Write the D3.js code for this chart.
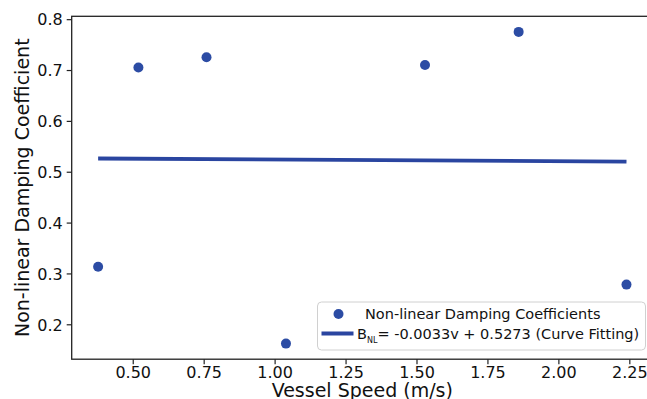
<!DOCTYPE html>
<html>
<head>
<meta charset="utf-8">
<script src="https://cdn.jsdelivr.net/npm/d3@7"></script>
<style>
  body { margin: 0; background: #fff; }
  svg { display: block; font-family: "DejaVu Sans", sans-serif; }
</style>
</head>
<body>
<script>
// vessel speed (m/s) and measured non-linear damping coefficient
var speeds = [0.378, 0.52, 0.76, 1.04, 1.53, 1.86, 2.24];
var coefs  = [0.313, 0.705, 0.725, 0.162, 0.71, 0.775, 0.278];

// fitted line B_NL = slope*v + intercept
var fitSlope = -0.0033;
var fitIntercept = 0.5273;

var xTicks = [0.50, 0.75, 1.00, 1.25, 1.50, 1.75, 2.00, 2.25];
var yTicks = [0.2, 0.3, 0.4, 0.5, 0.6, 0.7, 0.8];

var w = 647, h = 399;
var dotColor = "#2c4ca4";
var lineColor = "#2a45a0";

var svg = d3.select("body").append("svg")
    .attr("width", w)
    .attr("height", h);

// axis limits with a 5% margin around the data, like matplotlib
var xr = d3.extent(speeds), yr = d3.extent(coefs);
var xpad = (xr[1] - xr[0]) * 0.05, ypad = (yr[1] - yr[0]) * 0.05;

var x = d3.scaleLinear()
    .domain([xr[0] - xpad, xr[1] + xpad])
    .range([71.7, 652.9]);
var y = d3.scaleLinear()
    .domain([yr[0] - ypad, yr[1] + ypad])
    .range([359.2, 16.3]);

var x0 = x.range()[0], x1 = x.range()[1];
var y0 = y.range()[0], y1 = y.range()[1];

// axes
var xAxis = svg.append("g")
    .attr("transform", "translate(0," + y0 + ")")
    .call(d3.axisBottom(x).tickValues(xTicks).tickFormat(d3.format(".2f")).tickSizeOuter(0).tickSize(5).tickPadding(2));
var yAxis = svg.append("g")
    .attr("transform", "translate(" + x0 + ",0)")
    .call(d3.axisLeft(y).tickValues(yTicks).tickFormat(d3.format(".1f")).tickSizeOuter(0).tickSize(5).tickPadding(4));

[xAxis, yAxis].forEach(function(g) {
    g.select(".domain").remove();
    g.selectAll("line").attr("stroke", "#222").attr("stroke-width", 1.2);
    g.selectAll("text")
        .attr("fill", "#111")
        .style("font-size", "16px")
        .style("font-family", "DejaVu Sans, sans-serif");
});
yAxis.selectAll("text").attr("dy", "0.36em");
xAxis.selectAll("text").attr("dy", "0.71em");

// spines (box)
svg.append("rect")
    .attr("x", x0).attr("y", y1)
    .attr("width", x1 - x0).attr("height", y0 - y1)
    .attr("fill", "none")
    .attr("stroke", "#222")
    .attr("stroke-width", 1.3);

// fitted line
var fitX = d3.extent(speeds);
var line = d3.line()
    .x(function(d) { return x(d); })
    .y(function(d) { return y(fitSlope * d + fitIntercept); });

svg.append("path")
    .datum(fitX)
    .attr("d", line)
    .attr("fill", "none")
    .attr("stroke", lineColor)
    .attr("stroke-width", 3.8);

// points
svg.selectAll("circle.pt")
    .data(speeds)
    .enter()
    .append("circle")
    .attr("class", "pt")
    .attr("cx", function(d) { return x(d); })
    .attr("cy", function(d, i) { return y(coefs[i]); })
    .attr("r", 5)
    .attr("fill", dotColor);

// axis titles
svg.append("text")
    .attr("x", (x0 + x1) / 2)
    .attr("y", 397)
    .attr("text-anchor", "middle")
    .style("font-size", "19px")
    .attr("fill", "#111")
    .text("Vessel Speed (m/s)");

svg.append("text")
    .attr("transform", "translate(29," + ((y0 + y1) / 2) + ") rotate(-90)")
    .attr("text-anchor", "middle")
    .style("font-size", "19px")
    .attr("fill", "#111")
    .text("Non-linear Damping Coefficient");

// legend
var lg = svg.append("g").attr("transform", "translate(317.5,302)");
lg.append("rect")
    .attr("width", 328).attr("height", 48)
    .attr("rx", 4)
    .attr("fill", "#fff").attr("fill-opacity", 0.8)
    .attr("stroke", "#d0d0d0").attr("stroke-width", 1);

lg.append("circle")
    .attr("cx", 21).attr("cy", 12).attr("r", 5)
    .attr("fill", dotColor);
lg.append("text")
    .attr("x", 47.5).attr("y", 12).attr("dy", "0.36em")
    .style("font-size", "14.5px").attr("fill", "#111")
    .text("Non-linear Damping Coefficients");

lg.append("line")
    .attr("x1", 4).attr("x2", 36)
    .attr("y1", 31.5).attr("y2", 31.5)
    .attr("stroke", lineColor).attr("stroke-width", 3.8);
var t = lg.append("text")
    .attr("x", 39.5).attr("y", 32).attr("dy", "0.36em")
    .style("font-size", "14.5px").attr("fill", "#111");
t.append("tspan").text("B");
t.append("tspan").attr("dy", "4").style("font-size", "8px").text("NL");
t.append("tspan").attr("dy", "-4").text("= -0.0033v + 0.5273 (Curve Fitting)");
</script>
</body>
</html>
